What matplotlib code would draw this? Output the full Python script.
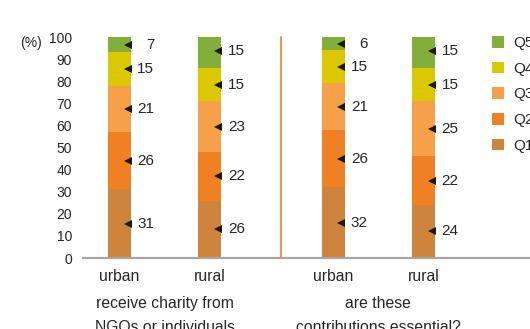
import matplotlib
matplotlib.use("Agg")
import matplotlib.pyplot as plt
from matplotlib.patches import Patch
import numpy as np

plt.rcParams['font.family'] = ['Liberation Sans', 'DejaVu Sans']

# Survey shares (%) by income quintile, bottom (Q1) to top (Q5)
groups = ["receive charity from\nNGOs or individuals", "are these\ncontributions essential?"]
categories = ["urban", "rural", "urban", "rural"]
quintiles = ["Q1", "Q2", "Q3", "Q4", "Q5"]
q1 = [31, 26, 32, 24]
q2 = [26, 22, 26, 22]
q3 = [21, 23, 21, 25]
q4 = [15, 15, 15, 15]
q5 = [7, 15, 6, 15]
yticks = [0, 10, 20, 30, 40, 50, 60, 70, 80, 90, 100]

colors = ["#CF843E", "#EF8024", "#F6A04A", "#DCC800", "#84AE3A"]
text_color = "#262626"

fig = plt.figure(figsize=(5.30, 3.29), dpi=100)
ax = fig.add_axes([83 / 530, 1 - 258 / 329, 447 / 530, 221 / 329])

# bar positions: two per group, wider gap between groups
within, between = 1.0, 1.36
x = np.array([0, within, within + between, 2 * within + between])
width = 0.254

series = [q1, q2, q3, q4, q5]
bottom = np.zeros(len(x))
for vals, col in zip(series, colors):
    vals = np.array(vals, dtype=float)
    ax.bar(x, vals, width=width, bottom=bottom, color=col, edgecolor="none")
    mids = bottom + vals / 2
    right = x + width / 2
    ax.plot(right - 0.038, mids, linestyle="none", marker="<", markersize=6.2,
            color="#1a1a1a", markeredgewidth=0, clip_on=False)
    for xr, m, v in zip(right, mids, vals):
        ax.annotate(f"{int(v)}", xy=(xr, m), xytext=(16.8, 0), textcoords="offset points",
                    ha="right", va="center", fontsize=11, color=text_color)
    bottom = bottom + vals

# separator between the two question groups
sep = x[1] + 0.79
ax.plot([sep, sep], [0, 100], color="#E87722", linewidth=1.1, clip_on=False)

ax.set_xlim(-0.403, 4.536)
ax.set_ylim(0, 100)
ax.set_yticks(yticks)
ax.set_yticklabels([str(t) for t in yticks], fontsize=10, color=text_color)
ax.tick_params(axis="y", length=0, pad=8)
ax.set_xticks(x)
ax.set_xticklabels(categories, fontsize=11.3, color=text_color)
ax.tick_params(axis="x", length=0, pad=8)

for s in ["top", "right", "left"]:
    ax.spines[s].set_visible(False)
ax.spines["bottom"].set_color("#A6A6A6")
ax.spines["bottom"].set_linewidth(1.6)

# group captions below the category labels
for gi, g in enumerate(groups):
    cx = (x[2 * gi] + x[2 * gi + 1]) / 2
    ax.text(cx, -0.172, g, transform=ax.get_xaxis_transform(), ha="center", va="top",
            fontsize=11.3, color=text_color, linespacing=1.75)

fig.text(20 / 530, 1 - 43 / 329, "(%)", fontsize=10, color=text_color, va="center", ha="left")

handles = [Patch(facecolor=c, edgecolor="none") for c in colors[::-1]]
fig.legend(handles, quintiles[::-1], loc="upper left", bbox_to_anchor=(486 / 530, 1 - 30 / 329),
           frameon=False, fontsize=11, handlelength=0.8, handleheight=0.8,
           handletextpad=0.6, labelspacing=0.75, borderaxespad=0, labelcolor=text_color)

fig.savefig("out.png", dpi=100)
